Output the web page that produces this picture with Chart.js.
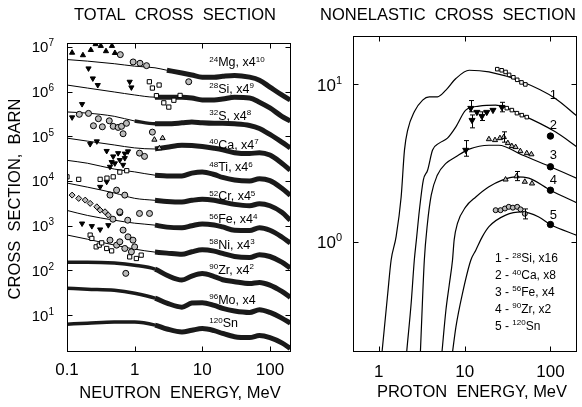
<!DOCTYPE html>
<html><head><meta charset="utf-8">
<script src="https://cdn.jsdelivr.net/npm/chart.js@4.4.1/dist/chart.umd.min.js"></script>
<style>
html,body{margin:0;padding:0;background:#fff;}
#wrap{position:relative;width:582px;height:407px;overflow:hidden;background:#fff;}
#c1{position:absolute;left:0;top:0;}
#c2{position:absolute;left:296px;top:0;}
</style></head><body>
<div id="wrap"><canvas id="c1" width="296" height="407"></canvas><canvas id="c2" width="286" height="407"></canvas></div>
<script>
// ---------------- LEFT PANEL DATA (total cross sections, barn, scaled) ----------------
const neutronEnergy = [0.1,0.2,0.5,1,2,3,5,7,10,15,20,30,50,70,100,150,200];
const totalMg = [5.2e6,4.8e6,4.2e6,3.7e6,3.4e6,3.0e6,2.6e6,2.35e6,2.1e6,2.1e6,2.2e6,2.3e6,2.1e6,1.8e6,1.26e6,8.4e5,6.5e5];
const totalSi = [1.4e6,1.2e6,9.8e5,8.4e5,7.5e5,7.5e5,7.5e5,7.2e5,6.5e5,6.5e5,6.8e5,7.5e5,7.2e5,5.8e5,4.3e5,2.8e5,2.2e5];
const totalS  = [3.5e5,3.3e5,2.8e5,2.2e5,1.9e5,1.9e5,2.0e5,2.1e5,2.0e5,1.95e5,1.95e5,1.9e5,1.75e5,1.5e5,1.1e5,7.4e4,5.5e4];
const totalCa = [9.1e4,7.8e4,6.4e4,5.5e4,5.2e4,5.7e4,6.3e4,6.2e4,5.9e4,5.4e4,5.0e4,4.3e4,4.1e4,4.3e4,3.8e4,2.5e4,1.75e4];
const totalTi = [2.9e4,2.5e4,1.85e4,1.6e4,1.35e4,1.3e4,1.3e4,1.5e4,1.6e4,1.4e4,1.2e4,1.05e4,1.0e4,1.12e4,1.02e4,6.9e3,4.8e3];
const totalCr = [9.0e3,7.3e3,5.4e3,4.1e3,3.7e3,3.5e3,3.4e3,3.7e3,3.9e3,3.7e3,3.4e3,3.0e3,2.8e3,3.1e3,2.8e3,2.0e3,1.33e3];
const totalFe = [2200,1700,1330,1140,1030,930,900,1000,1100,1040,940,790,780,900,790,560,410];
const totalNi = [620,500,370,300,257,244,230,262,290,270,240,205,195,225,205,153,113];
const totalZr = [153,153,146,131,107,78,61,75,85,73,62,56,51,54,47,34,25];
const totalMo = [40,38,36,31,24,18.6,15.1,18.6,19.0,16.5,14.2,12.4,11.5,13.2,11.5,8.6,6.6];
const totalSn = [6.3,6.6,7.0,7.0,6.0,4.9,4.2,4.6,5.0,4.5,3.9,3.3,3.15,3.5,3.15,2.4,1.8];
// energy above which measurements form a dense band
const denseFrom = [3,2,1,2,1.5,1.5,2,1.5,0.1,0.1,0.1];
// scattered low-energy measurements
const mgTriE=[0.119,0.172,0.225,0.265,0.316,0.377,0.462,0.511], mgTriV=[7.4e6,6.5e6,8.5e6,1.15e7,1.05e7,8.0e6,1.05e7,7.3e6];
const mgCirE=[0.614,0.95,1.2,1.5,6.3], mgCirV=[6.7e6,4.6e6,4.3e6,3.8e6,1.66e6];
const siTriE=[0.208,0.241,0.285,0.845,0.895], siTriV=[3.3e6,1.97e6,1.4e6,1.66e6,1.24e6];
const siSqE=[1.65,1.83,2.1,2.3,2.7,3.2,3.8,4.7], siSqV=[1.66e6,1.2e6,8.1e5,1.4e6,5.6e5,4.5e5,6.4e5,8.2e5];
const sTriE=[0.119,0.167], sTriV=[2.65e5,5.25e5];
const sCirE=[0.152,0.208,0.246,0.291,0.333,0.422,0.482,0.570,0.640,0.675,0.757,1.83], sCirV=[3.1e5,3.25e5,1.72e5,2.47e5,1.63e5,2.22e5,1.67e5,1.58e5,1.67e5,1.14e5,1.95e5,1.24e5];
const caTriE=[0.220,0.276,0.386,0.482,0.457,0.570,0.715,0.675,0.798], caTriV=[6.7e4,7.7e4,4.7e4,3.55e4,2.65e4,4.2e4,3.25e4,2.3e4,4.6e4];
const caCirE=[1.18,1.40], caCirV=[4.2e4,3.55e4];
const caUpE=[1.96,2.32,2.59], caUpV=[8.4e4,5.4e4,9.1e4];
const tiSqE=[0.1,0.149,0.309,0.39,0.482,0.604,0.764], tiSqV=[1.24e4,1.09e4,1.09e4,1.16e4,1.24e4,1.58e4,1.7e4];
const tiTriE=[0.309,0.386,0.432,0.51,0.604,0.715], tiTriV=[7.4e3,9.6e3,2.08e4,2.48e4,2.94e4,4.1e4];
const crDiaE=[0.119,0.149,0.186,0.220,0.276,0.309,0.365,0.408], crDiaV=[4840,4080,3740,3160,2650,2230,2050,1730];
const crCirE=[0.432,0.541,0.715,0.604,1.66], crCirV=[4840,6250,4840,2050,1880];
const feTriE=[0.167,0.233,0.309,0.408], feTriV=[1120,980,826,1030];
const feCirE=[0.477,0.604,0.79,1.18], feCirV=[1400,1950,1330,1880];
const niSqE=[0.220,0.233,0.27,0.30,0.326,0.386,0.457,0.845,1.06,1.25], niSqV=[617,520,337,368,414,310,274,201,185,220];
const niCirE=[0.432,0.541,0.604,0.675,0.715,0.798,0.895,0.945,1.0], niCirV=[476,368,437,798,310,565,261,476,337];
const zrCirE=[0.74], zrCirV=[86];
const leftXTicks=[0.1,1,10,100], leftXLabels=['0.1','1','10','100'];
const leftYTicks=[10,100,1e3,1e4,1e5,1e6,1e7], leftYExp=['1','2','3','4','5','6','7'];
const nucleusLabels=[['24','Mg, x4','10'],['28','Si, x4','9'],['32','S, x4','8'],['40','Ca, x4','7'],['48','Ti, x4','6'],['52','Cr, x4','5'],['56','Fe, x4','4'],['58','Ni, x4','3'],['90','Zr, x4','2'],['96','Mo, x4',''],['120','Sn','']];

// ---------------- RIGHT PANEL DATA (nonelastic cross sections, barn, scaled) ----------------
const pE1=[1.04,1.095,1.27,1.39,1.59,1.82,1.99,2.17,2.59,3.24,3.87,4.83,6.05,7.91,11.3,19.2,46.9,114,204];
const nonelSi=[0.15,0.205,0.47,0.765,1.08,1.93,3.83,5.13,6.70,7.95,8.34,8.34,9.2,10.9,12.3,12.0,10.4,8.15,6.29];
const pE2=[2.02,2.11,2.38,2.59,2.74,2.97,3.30,3.70,4.23,5.06,6.31,7.91,10.3,14.7,23.0,46.9,114,204];
const nonelCa=[0.15,0.199,0.406,0.765,1.03,1.59,2.47,2.85,3.83,4.24,4.56,5.38,6.87,7.28,7.39,6.38,5.0,4.01];
const pE3=[2.98,3.05,3.39,3.67,4.08,4.80,6.05,7.91,11.3,19.2,25,46.9,100,204];
const nonelFe=[0.15,0.199,0.765,1.28,1.98,2.65,3.15,3.47,3.88,4.11,4.11,3.56,3.0,2.53];
const pE4=[5.18,5.44,6.05,6.61,7.22,7.55,8.25,10.3,13.5,19.2,27.4,39.3,56,100,204];
const nonelZr=[0.15,0.199,0.368,0.531,0.765,1.03,1.31,1.67,1.93,2.24,2.47,2.59,2.54,2.13,1.77];
const pE5=[6.73,7.22,7.91,9.43,11.8,13.5,16.1,19.2,30.1,46.9,73.2,100,204];
const nonelSn=[0.15,0.199,0.288,0.47,0.765,0.886,1.08,1.25,1.48,1.55,1.44,1.29,1.10];
const siExpE=[24,27,30,33,37,41,46,51], siExpV=[12.5,12.3,12.0,11.5,11.1,10.7,10.3,10.0];
const caTriPE=[11.8,12.2,13.9,15.9,18.1,21.4,27.2], caTriPV=[7.07,5.93,6.67,6.29,6.67,6.87,7.17];
const caSqE=[31,35.5,40.7,46.4,53], caSqV=[7.07,6.87,6.57,6.38,6.2];
const feLowE=[10.3], feLowV=[3.83];
const feExpE=[19.2,22.6,25.8,28.6,31.9,35.5,39.3,44.6,53,60], feExpV=[4.49,4.43,4.56,4.63,4.24,4.06,4.0,3.77,3.66,3.6];
const zrExpE=[30,40.3,50.3,61], zrExpV=[2.49,2.61,2.41,2.35];
const snExpE=[23,26.2,29.5,32.7,36.5,41,44.8,50.3], snExpV=[1.59,1.59,1.63,1.67,1.65,1.67,1.61,1.51];
const dotE=[100,100,100,100], dotV=[4.7,3.0,2.13,1.29];
const errE=[11.8,12.2,15.9,27.2,10.3,28.6,40.3,50.3], errLo=[6.7,5.3,5.9,6.7,3.5,4.3,2.45,1.4], errHi=[7.9,6.4,6.7,7.7,4.4,5.0,2.8,1.62];
const rightXTicks=[1,10,100], rightXLabels=['1','10','100'];
const rightYTicks=[1,10], rightYExp=['0','1'];
const curveNumbers=['1','2','3','4','5'];
const curveNumberAt=[[100,8.5],[100,5.5],[100,3.55],[100,2.45],[100,1.48]];
const legendLines=[['1 - ','28','Si, x16'],['2 - ','40','Ca, x8'],['3 - ','56','Fe, x4'],['4 - ','90','Zr, x2'],['5 - ','120','Sn']];

// ---------------- helpers ----------------
const FONT='"Liberation Sans", Arial, Helvetica, sans-serif';
const fnt=s=>s+'px '+FONT;
const pts=(xs,ys)=>xs.map((x,i)=>({x:x,y:ys[i]}));
function marks(E,V,style,o){
  return Object.assign({data:pts(E,V),showLine:false,pointStyle:style,pointRadius:3,pointBorderColor:'#000',
    pointBackgroundColor:'#000',pointBorderWidth:1,order:1},o||{});
}
function curve(E,V,w,o){
  return Object.assign({data:pts(E,V),showLine:true,borderColor:'#000',borderWidth:w,pointRadius:0,
    cubicInterpolationMode:'monotone',order:3,clip:0},o||{});
}
function drawRich(ctx,parts,x,y,align,base,sup,rise){
  let w=0;
  parts.forEach(p=>{ctx.font=p[1]?sup:base;w+=ctx.measureText(p[0]).width;});
  let cx=align==='right'?x-w:(align==='center'?x-w/2:x);
  ctx.textAlign='left';ctx.textBaseline='alphabetic';
  parts.forEach(p=>{ctx.font=p[1]?sup:base;ctx.fillText(p[0],cx,p[1]?y-rise:y);cx+=ctx.measureText(p[0]).width;});
}
function frame(chart,cfg){
  const ctx=chart.ctx,a=chart.chartArea,xs=chart.scales.x,ys=chart.scales.y;
  const L=Math.round(a.left)+0.5,R=Math.round(a.right)-0.5,T=Math.round(a.top)+0.5,B=Math.round(a.bottom)-0.5;
  ctx.save();
  ctx.strokeStyle='#000';ctx.lineWidth=1;
  ctx.strokeRect(L,T,R-L,B-T);
  ctx.beginPath();
  cfg.xTicks.forEach(v=>{const p=Math.round(xs.getPixelForValue(v))+0.5;ctx.moveTo(p,B);ctx.lineTo(p,B-5);ctx.moveTo(p,T);ctx.lineTo(p,T+5);});
  cfg.yTicks.forEach(v=>{const p=Math.round(ys.getPixelForValue(v))+0.5;ctx.moveTo(L,p);ctx.lineTo(L+5,p);ctx.moveTo(R,p);ctx.lineTo(R-5,p);});
  ctx.stroke();
  ctx.fillStyle='#000';
  ctx.font=fnt(cfg.xFont);ctx.textAlign='center';ctx.textBaseline='middle';
  cfg.xTicks.forEach((v,i)=>ctx.fillText(cfg.xLabels[i],xs.getPixelForValue(v),a.bottom+cfg.xLabelDy));
  cfg.yTicks.forEach((v,i)=>drawRich(ctx,[['10',0],[cfg.yExp[i],1]],a.left-cfg.yGap,ys.getPixelForValue(v)+cfg.yFont*0.36,'right',fnt(cfg.yFont),fnt(cfg.ySup),cfg.yRise));
  ctx.font=fnt(cfg.titleFont);ctx.textAlign='center';ctx.textBaseline='middle';
  ctx.fillText(cfg.title,cfg.titleX,15);
  ctx.font=fnt(cfg.axisFont);
  ctx.fillText(cfg.xTitle,cfg.xTitleX,cfg.xTitleY);
  if(cfg.yTitle){ctx.save();ctx.translate(15,199);ctx.rotate(-Math.PI/2);ctx.fillText(cfg.yTitle,0,0);ctx.restore();}
  ctx.restore();
}

// ---------------- LEFT CHART ----------------
const totalCurves=[totalMg,totalSi,totalS,totalCa,totalTi,totalCr,totalFe,totalNi,totalZr,totalMo,totalSn];
const labelY=[4.69e6,1.2e6,2.98e5,6.6e4,2.1e4,4700,1430,390,106,22.5,6.8];
const leftSets=[];
totalCurves.forEach((vals,k)=>{
  leftSets.push(curve(neutronEnergy,vals,1));
  const keep=neutronEnergy.map(e=>e>=denseFrom[k]);
  leftSets.push(curve(neutronEnergy.filter((e,i)=>keep[i]),vals.filter((v,i)=>keep[i]),5,
    {borderColor:'#1a1a1a',order:2,segment:{borderWidth:c=>c.p0.parsed.x<1.5?3.5:5}}));
});
const W={pointBackgroundColor:'#fff'}, G={pointBackgroundColor:'#bbb'};
leftSets.push(
  marks(mgTriE,mgTriV,'triangle'),
  marks(mgCirE,mgCirV,'circle',G),
  marks(siTriE,siTriV,'triangle',{pointRotation:180}),
  marks(siSqE,siSqV,'rect',W),
  marks(sTriE,sTriV,'triangle',{pointRotation:180}),
  marks(sCirE,sCirV,'circle',G),
  marks(caTriE,caTriV,'triangle',{pointRotation:180}),
  marks(caCirE,caCirV,'circle',G),
  marks(caUpE,caUpV,'triangle',G),
  marks(tiSqE,tiSqV,'rect',W),
  marks(tiTriE,tiTriV,'triangle',{pointRotation:180}),
  marks(crDiaE,crDiaV,'rectRot',G),
  marks(crCirE,crCirV,'circle',G),
  marks(feTriE,feTriV,'triangle',{pointRotation:180}),
  marks(feCirE,feCirV,'circle',G),
  marks(niSqE,niSqV,'rect',W),
  marks(niCirE,niCirV,'circle',G),
  marks(zrCirE,zrCirV,'circle',G)
);
new Chart(document.getElementById('c1'),{
  type:'scatter',
  data:{datasets:leftSets},
  options:{responsive:false,animation:false,events:[],
    layout:{padding:{left:67,right:3,top:43,bottom:55}},
    plugins:{legend:{display:false},tooltip:{enabled:false}},
    scales:{x:{type:'logarithmic',min:0.1,max:205,bounds:'data',display:false},
            y:{type:'logarithmic',min:1.5,max:1.22e7,bounds:'data',display:false}}},
  plugins:[{id:'leftFrame',afterDatasetsDraw(chart){
    frame(chart,{xTicks:leftXTicks,xLabels:leftXLabels,yTicks:leftYTicks,yExp:leftYExp,xFont:17,xLabelDy:18,
      yFont:15,ySup:10,yRise:6,yGap:13,title:'TOTAL  CROSS  SECTION',titleFont:16.5,titleX:175,
      axisFont:16.5,xTitle:'NEUTRON  ENERGY, MeV',xTitleX:180,xTitleY:393,yTitle:'CROSS  SECTION,  BARN'});
    const ctx=chart.ctx,xs=chart.scales.x,ys=chart.scales.y;
    ctx.save();ctx.fillStyle='#000';
    nucleusLabels.forEach((l,k)=>{
      const parts=[[l[0],1],[l[1],0]];if(l[2])parts.push([l[2],1]);
      drawRich(ctx,parts,xs.getPixelForValue(12.7),ys.getPixelForValue(labelY[k])+4.5,'left',fnt(12.5),fnt(8),4.5);
    });
    ctx.restore();
  }}]
});

// ---------------- RIGHT CHART ----------------
const rightSets=[
  curve(pE1,nonelSi,1.2),curve(pE2,nonelCa,1.2),curve(pE3,nonelFe,1.2),curve(pE4,nonelZr,1.2),curve(pE5,nonelSn,1.2),
  marks(siExpE,siExpV,'rect',Object.assign({pointRadius:2.5},W)),
  marks(caTriPE,caTriPV,'triangle',{pointRotation:180,pointRadius:3.5}),
  marks(caSqE,caSqV,'rect',Object.assign({pointRadius:2.5},W)),
  marks(feLowE,feLowV,'triangle',{pointRotation:180,pointRadius:3.5}),
  marks(feExpE,feExpV,'triangle',Object.assign({pointRadius:3},G)),
  marks(zrExpE,zrExpV,'triangle',Object.assign({pointRadius:3},G)),
  marks(snExpE,snExpV,'circle',Object.assign({pointRadius:2.5},G)),
  marks(dotE,dotV,'circle',{pointRadius:3.2})
];
new Chart(document.getElementById('c2'),{
  type:'scatter',
  data:{datasets:rightSets},
  options:{responsive:false,animation:false,events:[],
    layout:{padding:{left:57,right:4,top:36,bottom:55}},
    plugins:{legend:{display:false},tooltip:{enabled:false}},
    scales:{x:{type:'logarithmic',min:0.5,max:204,bounds:'data',display:false},
            y:{type:'logarithmic',min:0.2,max:20.3,bounds:'data',display:false}}},
  plugins:[{id:'rightFrame',afterDatasetsDraw(chart){
    const ctx=chart.ctx,xs=chart.scales.x,ys=chart.scales.y;
    ctx.save();ctx.strokeStyle='#000';ctx.lineWidth=1;ctx.beginPath();
    errE.forEach((e,i)=>{const x=Math.round(xs.getPixelForValue(e))+0.5,y1=ys.getPixelForValue(errLo[i]),y2=ys.getPixelForValue(errHi[i]);
      ctx.moveTo(x,y1);ctx.lineTo(x,y2);ctx.moveTo(x-2.5,y1);ctx.lineTo(x+2.5,y1);ctx.moveTo(x-2.5,y2);ctx.lineTo(x+2.5,y2);});
    ctx.stroke();ctx.restore();
    frame(chart,{xTicks:rightXTicks,xLabels:rightXLabels,yTicks:rightYTicks,yExp:rightYExp,xFont:17,xLabelDy:20,
      yFont:17,ySup:11,yRise:7,yGap:11,title:'NONELASTIC  CROSS  SECTION',titleFont:16.5,titleX:152,
      axisFont:16.5,xTitle:'PROTON  ENERGY, MeV',xTitleX:176,xTitleY:392});
    ctx.save();ctx.fillStyle='#000';ctx.font=fnt(13);ctx.textAlign='center';ctx.textBaseline='middle';
    curveNumbers.forEach((t,k)=>ctx.fillText(t,xs.getPixelForValue(curveNumberAt[k][0])+3,ys.getPixelForValue(curveNumberAt[k][1])));
    legendLines.forEach((l,k)=>drawRich(ctx,[[l[0],0],[l[1],1],[l[2],0]],199,258+k*16.8+4.3,'left',fnt(12),fnt(8),4.5));
    ctx.restore();
  }}]
});
</script></body></html>
